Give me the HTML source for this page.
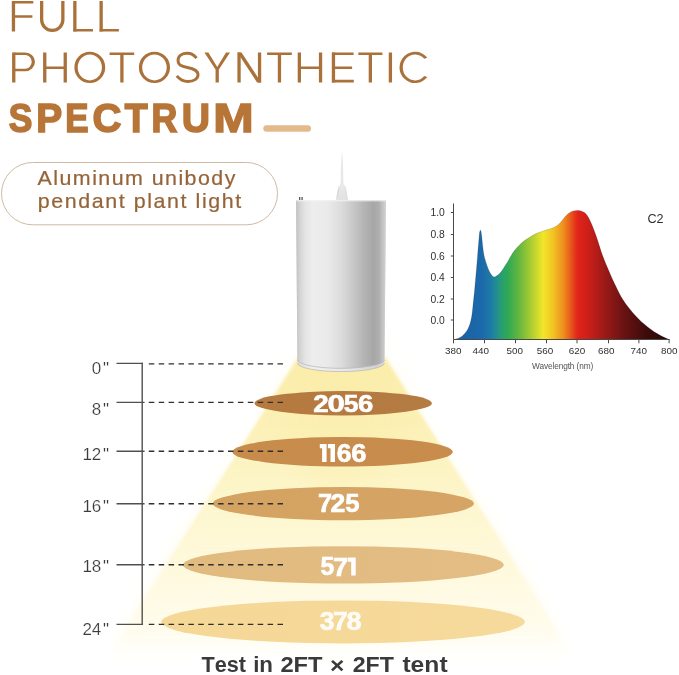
<!DOCTYPE html>
<html>
<head>
<meta charset="utf-8">
<style>
html,body{margin:0;padding:0;background:#fff;}
body{width:679px;height:675px;overflow:hidden;position:relative;font-family:"Liberation Sans",sans-serif;}
svg{position:absolute;left:0;top:0;display:block;will-change:transform;}
text{font-family:"Liberation Sans",sans-serif;}
</style>
</head>
<body>
<svg width="679" height="675" viewBox="0 0 679 675">
<defs>
  <filter id="b2" x="-20%" y="-20%" width="140%" height="140%"><feGaussianBlur stdDeviation="1.7"/></filter>
  <filter id="b8" x="-20%" y="-20%" width="140%" height="140%"><feGaussianBlur stdDeviation="7"/></filter>
  <linearGradient id="coneG" gradientUnits="userSpaceOnUse" x1="0" y1="356" x2="0" y2="662">
    <stop offset="0" stop-color="#fbedaa"/>
    <stop offset="0.25" stop-color="#fcf1b9"/>
    <stop offset="0.5" stop-color="#fdf6cd" stop-opacity="0.95"/>
    <stop offset="0.72" stop-color="#fef9dc" stop-opacity="0.85"/>
    <stop offset="0.9" stop-color="#fffbe6" stop-opacity="0.5"/>
    <stop offset="1" stop-color="#fffdf0" stop-opacity="0"/>
  </linearGradient>
  <linearGradient id="coneG2" gradientUnits="userSpaceOnUse" x1="0" y1="356" x2="0" y2="662">
    <stop offset="0" stop-color="#fdf4c4" stop-opacity="0"/>
    <stop offset="0.3" stop-color="#fdf6cc" stop-opacity="0.15"/>
    <stop offset="0.6" stop-color="#fef8d6" stop-opacity="0.5"/>
    <stop offset="0.85" stop-color="#fffbe6" stop-opacity="0.5"/>
    <stop offset="1" stop-color="#fffdf0" stop-opacity="0"/>
  </linearGradient>
  <filter id="b3" x="-20%" y="-20%" width="140%" height="140%"><feGaussianBlur stdDeviation="3"/></filter>
  <filter id="b14" x="-30%" y="-30%" width="160%" height="160%"><feGaussianBlur stdDeviation="14"/></filter>
  <linearGradient id="coneFade" x1="0" y1="0" x2="0" y2="1">
    <stop offset="0" stop-color="#fff" stop-opacity="1"/>
    <stop offset="0.55" stop-color="#fff" stop-opacity="0.9"/>
    <stop offset="0.9" stop-color="#fff" stop-opacity="0.45"/>
    <stop offset="1" stop-color="#fff" stop-opacity="0"/>
  </linearGradient>
  <mask id="coneMask" maskUnits="userSpaceOnUse" x="0" y="340" width="679" height="335">
    <rect x="0" y="355" width="679" height="300" fill="url(#coneFade)"/>
  </mask>
  <linearGradient id="lampG" x1="0" y1="0" x2="1" y2="0">
    <stop offset="0" stop-color="#c0c0c0"/>
    <stop offset="0.04" stop-color="#d3d3d3"/>
    <stop offset="0.10" stop-color="#e4e4e4"/>
    <stop offset="0.18" stop-color="#ededed"/>
    <stop offset="0.35" stop-color="#eaeaea"/>
    <stop offset="0.50" stop-color="#dcdcdc"/>
    <stop offset="0.62" stop-color="#cacaca"/>
    <stop offset="0.75" stop-color="#b5b5b5"/>
    <stop offset="0.86" stop-color="#a7a7a7"/>
    <stop offset="0.92" stop-color="#aeaeae"/>
    <stop offset="0.97" stop-color="#c6c6c6"/>
    <stop offset="1" stop-color="#d4d4d4"/>
  </linearGradient>
  <linearGradient id="cordG" gradientUnits="userSpaceOnUse" x1="0" y1="150" x2="0" y2="200">
    <stop offset="0" stop-color="#ebebeb" stop-opacity="0.3"/>
    <stop offset="0.25" stop-color="#e6e6e6"/>
    <stop offset="0.7" stop-color="#e9e9e9"/>
    <stop offset="1" stop-color="#e2e2e2"/>
  </linearGradient>
  <linearGradient id="lampRim" x1="0" y1="0" x2="1" y2="0">
    <stop offset="0" stop-color="#dcdcdc"/>
    <stop offset="0.2" stop-color="#f0f0f0"/>
    <stop offset="0.6" stop-color="#e6e6e6"/>
    <stop offset="0.9" stop-color="#d2d2d2"/>
    <stop offset="1" stop-color="#dedede"/>
  </linearGradient>
  <linearGradient id="spec" gradientUnits="userSpaceOnUse" x1="454" y1="0" x2="669" y2="0">
    <stop offset="0" stop-color="#1a5fa6"/>
    <stop offset="0.13" stop-color="#1b69aa"/>
    <stop offset="0.17" stop-color="#1d7aa6"/>
    <stop offset="0.20" stop-color="#23908e"/>
    <stop offset="0.225" stop-color="#29a06c"/>
    <stop offset="0.25" stop-color="#2fa955"/>
    <stop offset="0.30" stop-color="#62b640"/>
    <stop offset="0.36" stop-color="#acce30"/>
    <stop offset="0.415" stop-color="#f2e62a"/>
    <stop offset="0.46" stop-color="#f2c423"/>
    <stop offset="0.51" stop-color="#ee8d1d"/>
    <stop offset="0.575" stop-color="#e2231a"/>
    <stop offset="0.63" stop-color="#c81f19"/>
    <stop offset="0.70" stop-color="#9c1a17"/>
    <stop offset="0.79" stop-color="#6a1212"/>
    <stop offset="0.90" stop-color="#3a0b0b"/>
    <stop offset="1" stop-color="#2a0808"/>
  </linearGradient>
  <linearGradient id="e1" x1="0" y1="0" x2="1" y2="0"><stop offset="0" stop-color="#b57a40"/><stop offset="1" stop-color="#b47b42"/></linearGradient>
  <linearGradient id="e2" x1="0" y1="0" x2="1" y2="0"><stop offset="0" stop-color="#c78b4b"/><stop offset="1" stop-color="#c88c4d"/></linearGradient>
  <linearGradient id="e3" x1="0" y1="0" x2="1" y2="0"><stop offset="0" stop-color="#d4a261"/><stop offset="1" stop-color="#d6a565"/></linearGradient>
  <linearGradient id="e4" x1="0" y1="0" x2="1" y2="0"><stop offset="0" stop-color="#e1ba7f"/><stop offset="1" stop-color="#e3bd84"/></linearGradient>
  <linearGradient id="e5" x1="0" y1="0" x2="1" y2="0"><stop offset="0" stop-color="#f5d896"/><stop offset="1" stop-color="#f6da9c"/></linearGradient>
</defs>

<!-- light cone -->
<polygon points="299,356 384,356 580,662 101,662" fill="url(#coneG2)" filter="url(#b8)"/>
<polygon points="299.1,356 384.4,356 576.9,662 103.9,662" fill="url(#coneG)" filter="url(#b2)"/>
<ellipse cx="342" cy="420" rx="60" ry="70" fill="#fae99a" opacity="0.22" filter="url(#b14)"/>

<!-- ellipses -->
<ellipse cx="343.2" cy="403.2" rx="88.6" ry="12.2" fill="url(#e1)"/>
<ellipse cx="342.6" cy="451.8" rx="110.2" ry="14.8" fill="url(#e2)"/>
<ellipse cx="343.35" cy="503.6" rx="130.5" ry="16.6" fill="url(#e3)"/>
<ellipse cx="343.4" cy="564.9" rx="160.4" ry="18.7" fill="url(#e4)"/>
<ellipse cx="343" cy="621.9" rx="181.8" ry="21.5" fill="url(#e5)"/>

<!-- scale -->
<g stroke="#505050" stroke-width="1.4" fill="none">
 <path d="M142.2,362.8V625.1"/>
 <path d="M116.5,363.4H142.9M116.5,402.4H144.6M116.5,451.2H144.6M116.5,503.8H144.6M116.5,564.7H144.6M116.5,624.4H142.9"/>
</g>
<g stroke="#303030" stroke-width="1.4" stroke-dasharray="5.5 4.4" fill="none">
 <path d="M148.8,363.9H283M148.8,402.4H283M148.8,451.2H283M148.8,503.8H283M148.8,564.7H283M148.8,624.4H283"/>
</g>
<g font-size="17" fill="#3c3c3c" stroke="#fff" stroke-width="0.2">
 <text x="101.3" y="374.4" text-anchor="end">0</text><text x="102.9" y="374.4">"</text>
 <text x="101.3" y="415.3" text-anchor="end">8</text><text x="102.9" y="415.3">"</text>
 <text x="101.3" y="460.3" text-anchor="end">12</text><text x="102.9" y="460.3">"</text>
 <text x="101.3" y="512.3" text-anchor="end">16</text><text x="102.9" y="512.3">"</text>
 <text x="101.3" y="572.2" text-anchor="end">18</text><text x="102.9" y="572.2">"</text>
 <text x="101.3" y="635.2" text-anchor="end">24</text><text x="102.9" y="635.2">"</text>
</g>

<!-- numbers -->
<g font-weight="bold" fill="#fff">
 <text transform="translate(313.23,412.20) scale(0.2784,0.2378)" font-size="100" stroke="#fff" stroke-width="2.4">2</text>
 <text transform="translate(327.47,411.97) scale(0.3113,0.2345)" font-size="100" stroke="#fff" stroke-width="2.4">0</text>
 <text transform="translate(343.78,411.97) scale(0.2653,0.2379)" font-size="100" stroke="#fff" stroke-width="2.4">5</text>
 <text transform="translate(357.89,411.97) scale(0.2751,0.2345)" font-size="100" stroke="#fff" stroke-width="2.4">6</text>
 <path d="M319.80,444.10H326.60V462.10H322.11V448.33H319.80Z"/>
 <path d="M327.90,444.10H335.00V462.10H330.50V448.33H327.90Z"/>
 <text transform="translate(336.63,461.85) scale(0.2648,0.2542)" font-size="100" stroke="#fff" stroke-width="2.4">6</text>
 <text transform="translate(351.20,461.85) scale(0.2731,0.2542)" font-size="100" stroke="#fff" stroke-width="2.4">6</text>
 <text transform="translate(318.01,512.30) scale(0.2536,0.2573)" font-size="100" stroke="#fff" stroke-width="2.4">7</text>
 <text transform="translate(330.48,512.30) scale(0.2659,0.2535)" font-size="100" stroke="#fff" stroke-width="2.4">2</text>
 <text transform="translate(345.21,512.05) scale(0.2573,0.2537)" font-size="100" stroke="#fff" stroke-width="2.4">5</text>
 <text transform="translate(320.54,575.35) scale(0.2472,0.2594)" font-size="100" stroke="#fff" stroke-width="2.4">5</text>
 <text transform="translate(332.93,575.60) scale(0.2728,0.2631)" font-size="100" stroke="#fff" stroke-width="2.4">7</text>
 <path d="M347.80,557.50H355.70V575.60H351.20V561.75H347.80Z"/>
 <text transform="translate(319.79,629.72) scale(0.2655,0.2537)" font-size="100" stroke="#fff" stroke-width="2.4" stroke-opacity="0.9" fill-opacity="0.9">3</text>
 <text transform="translate(332.96,630.00) scale(0.2643,0.2616)" font-size="100" stroke="#fff" stroke-width="2.4" stroke-opacity="0.9" fill-opacity="0.9">7</text>
 <text transform="translate(346.45,629.75) scale(0.2694,0.2542)" font-size="100" stroke="#fff" stroke-width="2.4" stroke-opacity="0.9" fill-opacity="0.9">8</text>
</g>

<!-- lamp -->
<path d="M341.5,151 L342.5,151 L343.5,184 C343.6,185.2 345.6,185.6 345.9,187.5 L348.3,200.5 L335.7,200.5 L338.1,187.5 C338.4,185.6 340.4,185.2 340.5,184 Z" fill="url(#cordG)"/>
<path d="M337.2,197 L338.9,188.2" stroke="#d0d0d0" stroke-width="0.8" fill="none"/>
<path d="M346.8,197 L345.1,188.2" stroke="#d8d8d8" stroke-width="0.6" fill="none"/>
<rect x="299.1" y="197" width="1.2" height="3.6" fill="#4a4a4a"/>
<rect x="301.5" y="197" width="1.2" height="3.6" fill="#4a4a4a"/>
<path d="M296.1,200.3 H386 L384.4,363 A43.5,8.6 0 0 1 297.4,363 Z" fill="url(#lampRim)"/>
<path d="M297.4,363 A43.5,8.6 0 0 0 384.4,363" fill="none" stroke="#b4b4b4" stroke-width="0.7"/>
<path d="M296.1,200.3 H386 L384.5,360.3 A43.6,8.6 0 0 1 297.4,360.3 Z" fill="url(#lampG)"/>
<path d="M297.5,360.3 A43.6,8.6 0 0 0 384.5,360.3" fill="none" stroke="#bababa" stroke-width="0.8"/>
<path d="M296.5,200.8 H385.5" stroke="#f4f4f4" stroke-width="1"/>

<!-- chart -->
<path d="M454.0,339.4C454.7,339.2 456.7,339.0 458.0,338.5C459.3,338.0 460.7,337.3 462.0,336.2C463.3,335.1 464.8,333.6 466.0,332.0C467.2,330.4 468.2,328.5 469.0,326.5C469.8,324.5 470.4,322.4 471.0,320.0C471.6,317.6 471.9,315.0 472.3,312.0C472.7,309.0 472.9,305.5 473.3,302.0C473.7,298.5 474.0,296.0 474.5,291.0C475.0,286.0 475.6,278.4 476.2,272.0C476.8,265.6 477.3,258.8 477.8,252.8C478.3,246.8 478.9,239.6 479.2,236.0C479.5,232.4 479.6,232.5 479.8,231.5C480.0,230.5 480.2,230.2 480.4,230.2C480.6,230.2 480.8,230.5 481.0,231.5C481.2,232.5 481.3,232.4 481.7,236.0C482.1,239.6 482.9,248.4 483.6,252.8C484.3,257.2 485.0,259.2 486.0,262.4C487.0,265.6 488.4,269.6 489.7,272.0C491.0,274.4 492.4,276.2 493.6,276.8C494.8,277.4 495.8,276.4 497.0,275.6C498.2,274.8 499.3,274.1 500.9,272.0C502.5,269.9 505.2,265.6 506.7,263.2C508.2,260.8 508.9,259.2 510.0,257.4C511.1,255.6 512.1,253.9 513.2,252.3C514.3,250.7 515.5,249.3 516.6,248.0C517.7,246.7 518.8,245.6 520.0,244.4C521.2,243.2 522.7,242.0 524.0,241.0C525.3,240.0 526.1,239.5 528.0,238.3C529.9,237.1 533.3,235.0 535.6,233.8C537.9,232.7 539.9,232.1 542.0,231.4C544.1,230.7 546.2,230.2 548.0,229.6C549.8,229.0 551.4,228.5 553.0,227.8C554.6,227.1 556.1,226.4 557.5,225.3C558.9,224.2 560.2,222.8 561.5,221.3C562.8,219.8 564.2,217.7 565.5,216.3C566.8,214.9 568.2,213.7 569.5,212.8C570.8,211.9 572.0,211.4 573.2,211.0C574.5,210.6 575.7,210.4 577.0,210.4C578.3,210.4 579.8,210.5 581.0,210.9C582.2,211.3 583.4,211.8 584.5,212.6C585.6,213.4 586.6,214.6 587.6,216.0C588.6,217.4 589.3,219.2 590.2,221.0C591.1,222.8 591.6,224.0 592.8,227.0C594.0,230.0 595.6,234.3 597.2,239.0C598.8,243.7 600.5,249.8 602.4,255.0C604.3,260.2 606.5,265.2 608.5,270.0C610.5,274.8 612.4,279.1 614.5,283.5C616.6,287.9 618.9,292.8 621.0,296.5C623.1,300.2 625.0,302.8 627.0,305.5C629.0,308.2 630.9,310.6 633.0,313.0C635.1,315.4 637.4,317.8 639.4,319.8C641.4,321.8 643.1,323.2 645.0,324.8C646.9,326.4 649.0,328.0 651.0,329.5C653.0,331.0 655.2,332.4 657.2,333.6C659.2,334.8 661.0,335.8 663.0,336.8C665.0,337.8 668.0,339.0 669.0,339.4Z" fill="url(#spec)"/>
<path d="M454.0,339.4C454.7,339.2 456.7,339.0 458.0,338.5C459.3,338.0 460.7,337.3 462.0,336.2C463.3,335.1 464.8,333.6 466.0,332.0C467.2,330.4 468.2,328.5 469.0,326.5C469.8,324.5 470.4,322.4 471.0,320.0C471.6,317.6 471.9,315.0 472.3,312.0C472.7,309.0 472.9,305.5 473.3,302.0C473.7,298.5 474.0,296.0 474.5,291.0C475.0,286.0 475.6,278.4 476.2,272.0C476.8,265.6 477.3,258.8 477.8,252.8C478.3,246.8 478.9,239.6 479.2,236.0C479.5,232.4 479.6,232.5 479.8,231.5C480.0,230.5 480.2,230.2 480.4,230.2C480.6,230.2 480.8,230.5 481.0,231.5C481.2,232.5 481.3,232.4 481.7,236.0C482.1,239.6 482.9,248.4 483.6,252.8C484.3,257.2 485.0,259.2 486.0,262.4C487.0,265.6 488.4,269.6 489.7,272.0C491.0,274.4 492.4,276.2 493.6,276.8C494.8,277.4 495.8,276.4 497.0,275.6C498.2,274.8 499.3,274.1 500.9,272.0C502.5,269.9 505.2,265.6 506.7,263.2C508.2,260.8 508.9,259.2 510.0,257.4C511.1,255.6 512.1,253.9 513.2,252.3C514.3,250.7 515.5,249.3 516.6,248.0C517.7,246.7 518.8,245.6 520.0,244.4C521.2,243.2 522.7,242.0 524.0,241.0C525.3,240.0 526.1,239.5 528.0,238.3C529.9,237.1 533.3,235.0 535.6,233.8C537.9,232.7 539.9,232.1 542.0,231.4C544.1,230.7 546.2,230.2 548.0,229.6C549.8,229.0 551.4,228.5 553.0,227.8C554.6,227.1 556.1,226.4 557.5,225.3C558.9,224.2 560.2,222.8 561.5,221.3C562.8,219.8 564.2,217.7 565.5,216.3C566.8,214.9 568.2,213.7 569.5,212.8C570.8,211.9 572.0,211.4 573.2,211.0C574.5,210.6 575.7,210.4 577.0,210.4C578.3,210.4 579.8,210.5 581.0,210.9C582.2,211.3 583.4,211.8 584.5,212.6C585.6,213.4 586.6,214.6 587.6,216.0C588.6,217.4 589.3,219.2 590.2,221.0C591.1,222.8 591.6,224.0 592.8,227.0C594.0,230.0 595.6,234.3 597.2,239.0C598.8,243.7 600.5,249.8 602.4,255.0C604.3,260.2 606.5,265.2 608.5,270.0C610.5,274.8 612.4,279.1 614.5,283.5C616.6,287.9 618.9,292.8 621.0,296.5C623.1,300.2 625.0,302.8 627.0,305.5C629.0,308.2 630.9,310.6 633.0,313.0C635.1,315.4 637.4,317.8 639.4,319.8C641.4,321.8 643.1,323.2 645.0,324.8C646.9,326.4 649.0,328.0 651.0,329.5C653.0,331.0 655.2,332.4 657.2,333.6C659.2,334.8 661.0,335.8 663.0,336.8C665.0,337.8 668.0,339.0 669.0,339.4" fill="none" stroke="#000" stroke-opacity="0.18" stroke-width="0.8"/>
<g stroke="#484848" stroke-width="1" fill="none">
 <path d="M453.5,203.5V339.5H669.6"/>
 <path d="M450.8,212.5H453.5M450.8,234.5H453.5M450.8,256.0H453.5M450.8,277.5H453.5M450.8,299.0H453.5M450.8,320.0H453.5"/>
 <path d="M453.5,339.5v3.8M484.5,339.5v3.8M515.5,339.5v3.8M546.5,339.5v3.8M577.0,339.5v3.8M608.5,339.5v3.8M638.9,339.5v3.8M669.1,339.5v3.8"/>
</g>
<g font-size="10.3" fill="#303030" text-anchor="end">
 <text x="444.8" y="216.2">1.0</text>
 <text x="444.8" y="238.2">0.8</text>
 <text x="444.8" y="259.7">0.6</text>
 <text x="444.8" y="281.2">0.4</text>
 <text x="444.8" y="302.7">0.2</text>
 <text x="444.8" y="323.7">0.0</text>
</g>
<g font-size="9.9" fill="#303030" text-anchor="middle">
 <text x="453.3" y="353.9">380</text>
 <text x="480.8" y="353.9">440</text>
 <text x="514.7" y="353.9">500</text>
 <text x="545.1" y="353.9">560</text>
 <text x="576.9" y="353.9">620</text>
 <text x="606.2" y="353.9">680</text>
 <text x="638.8" y="353.9">740</text>
 <text x="669.2" y="353.9">800</text>
</g>
<text x="532.1" y="369.3" font-size="8.3" fill="#555" textLength="61.1" lengthAdjust="spacing">Wavelength (nm)</text>
<text x="647.5" y="223" font-size="12.6" fill="#303030">C2</text>

<!-- header -->
<g fill="none" stroke="#aa723a" stroke-linejoin="miter" stroke-linecap="butt">
 <path stroke-width="3.3" d="M13.45,31.5V0.9M41.65,0.9V19.85A10.6,10.6 0 0 0 62.85,19.85V0.9M74.85,0.9V31.5M101.15,0.9V31.5M13.75,82.4V52.4M44.75,52.4V82.4M65.25,52.4V82.4M121.9,53.7V82.4M239.05,52.4V82.4M259.55,52.4V82.4M279.45,53.7V82.4M299.35,52.4V82.4M320.55,52.4V82.4M333.45,52.4V82.4M370.35,53.7V82.4M390.4,52.4V82.4"/>
 <path stroke-width="2.6" d="M12,2.2H33.3M13.45,16.51H32.4M73.4,30.2H93M99.7,30.2H118.9M44.75,67.7H65.25M109.6,53.7H134.2M267.1,53.7H291.8M299.35,67.7H320.55M332,53.7H353.6M332,81.1H353.8M333.45,67.7H352.1M358.3,53.7H382.4"/>
 <path stroke-width="2.95" d="M196.54,58.08C193.78,54.69 190.8,53.27 187.4,53.27C181.88,53.27 178.05,56.1 178.05,60.62C178.05,65.14 181.45,66.27 187.4,67.54C193.78,68.81 198.03,70.22 198.03,74.75C198.03,78.7 193.78,81.53 188.04,81.53C183.57,81.53 179.75,79.55 176.78,75.88"/>
</g>
<g fill="#aa723a" fill-rule="evenodd"><polygon points="204.4,52.4 208.36,52.4 217.2,67.1 226.04,52.4 230,52.4 218.85,69.6 218.85,82.4 215.55,82.4 215.55,69.6"/><polygon points="237.4,52.4 241.53,52.4 261.2,82.4 257.07,82.4"/><path d="M13.75,52.4H25.2A9.8,9.45 0 0 1 25.2,71.3H13.75V68.7H25.2A6.5,6.85 0 0 0 25.2,55H13.75ZM74.4,67.4A15.4,15.6 0 1 1 105.2,67.4A15.4,15.6 0 1 1 74.4,67.4ZM77.7,67.4A12.1,13 0 1 0 101.9,67.4A12.1,13 0 1 0 77.7,67.4ZM138.9,67.4A15.55,15.6 0 1 1 170,67.4A15.55,15.6 0 1 1 138.9,67.4ZM142.2,67.4A12.25,13 0 1 0 166.7,67.4A12.25,13 0 1 0 142.2,67.4ZM427.3,57.8A15.55,15.6 0 1 0 427.3,77L424.3,75.93A12.25,13 0 1 1 424.3,58.87Z"/></g>
<g font-weight="bold" fill="#b77537" stroke="#b77537" stroke-linejoin="miter" font-size="100">
 <text transform="translate(8.78,132.00) scale(0.3539,0.4099)" stroke-width="4.19">S</text>
 <text transform="translate(36.20,132.00) scale(0.3888,0.4099)" stroke-width="4.01">P</text>
 <text transform="translate(65.36,132.00) scale(0.3494,0.4099)" stroke-width="4.21">E</text>
 <text transform="translate(92.46,132.00) scale(0.4007,0.4099)" stroke-width="3.95">C</text>
 <text transform="translate(124.78,132.00) scale(0.3753,0.4099)" stroke-width="4.08">T</text>
 <text transform="translate(151.61,132.00) scale(0.3576,0.4099)" stroke-width="4.17">R</text>
 <text transform="translate(181.85,132.00) scale(0.3910,0.4099)" stroke-width="4.00">U</text>
 <text transform="translate(213.26,132.00) scale(0.4848,0.4099)" stroke-width="3.58">M</text>
</g>
<rect x="263.3" y="125.3" width="47.7" height="6.5" rx="3.25" fill="#e3ba8c"/>

<!-- pill -->
<rect x="1.5" y="162.5" width="276" height="62.3" rx="31.15" fill="#fff" stroke="#cfb9a2" stroke-width="1"/>
<g font-size="20.2" fill="#956539" stroke="#956539" stroke-width="0.22">
  <text transform="translate(37.6,184.6) scale(1.06,1)" textLength="186.6" lengthAdjust="spacing">Aluminum unibody</text>
  <text transform="translate(37.8,208.3) scale(1.06,1)" textLength="191.9" lengthAdjust="spacing">pendant plant light</text>
</g>

<!-- bottom text -->
<g font-weight="bold" fill="#3a3a3a" style="font-kerning:none">
 <text transform="translate(201.46,671.80) scale(0.9975,1.0000)" font-size="21.7">Test</text>
 <text transform="translate(253.14,671.80) scale(1.0290,1.0000)" font-size="21.7">in</text>
 <text transform="translate(280.38,671.80) scale(1.0933,1.0000)" font-size="21.7">2FT</text>
 <text transform="translate(330.07,673.20) scale(1.1336,1.0000)" font-size="21.7">×</text>
 <text transform="translate(352.70,671.80) scale(1.0693,1.0000)" font-size="21.7">2FT</text>
 <text transform="translate(402.40,671.80) scale(1.1364,1.0000)" font-size="21.7">tent</text>
</g>
</svg>
</body>
</html>
